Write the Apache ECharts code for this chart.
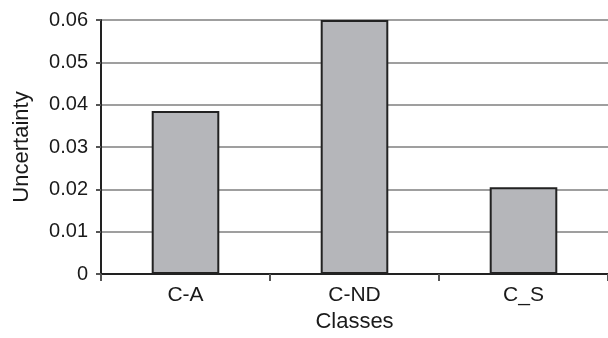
<!DOCTYPE html>
<html>
<head>
<meta charset="utf-8">
<script src="https://cdn.jsdelivr.net/npm/echarts@6/dist/echarts.min.js"></script>
<style>
  html, body { margin: 0; padding: 0; background: #ffffff; }
  #chart { width: 608px; height: 338px; }
</style>
</head>
<body>
<div id="chart"></div>
<script>
// Uncertainty per class
const classes = ['C-A', 'C-ND', 'C_S'];
const uncertainty = [0.0385, 0.06, 0.0205];
const yTicks = { min: 0, max: 0.06, step: 0.01 };

const font = '"Liberation Sans", Arial, sans-serif';
const chart = echarts.init(document.getElementById('chart'), null, { renderer: 'canvas' });

chart.setOption({
  animation: false,
  backgroundColor: '#ffffff',
  grid: { left: 101, top: 20, right: -8, bottom: 60, containLabel: false },
  xAxis: {
    type: 'category',
    data: classes,
    name: 'Classes',
    nameLocation: 'middle',
    nameGap: 37,
    nameTextStyle: { fontFamily: font, fontSize: 22, color: '#1a1a1a' },
    axisLine: { show: true, lineStyle: { color: '#222', width: 2 } },
    axisTick: { show: true, alignWithLabel: false, length: 7, lineStyle: { color: '#555', width: 2 } },
    axisLabel: { fontFamily: font, fontSize: 21, color: '#1a1a1a', margin: 11 },
    splitLine: { show: false }
  },
  yAxis: {
    type: 'value',
    min: yTicks.min,
    max: yTicks.max,
    interval: yTicks.step,
    name: 'Uncertainty',
    nameLocation: 'middle',
    nameGap: 68,
    nameTextStyle: { fontFamily: font, fontSize: 22, color: '#1a1a1a' },
    axisLine: { show: true, lineStyle: { color: '#222', width: 2 } },
    axisTick: { show: true, length: 5, lineStyle: { color: '#555', width: 2 } },
    axisLabel: { fontFamily: font, fontSize: 20, color: '#1a1a1a', margin: 13 },
    splitLine: { show: true, lineStyle: { color: '#7f7f7f', width: 1.5 } }
  },
  series: [{
    type: 'bar',
    data: uncertainty,
    barCategoryGap: '60%',
    itemStyle: { color: '#b5b6ba', borderColor: '#222', borderWidth: 2 }
  }]
});
</script>
</body>
</html>
